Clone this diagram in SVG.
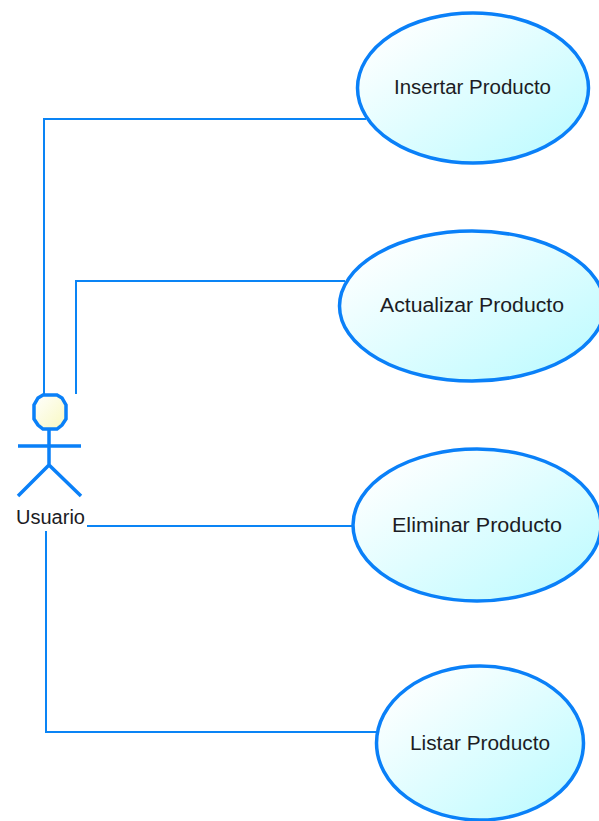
<svg xmlns="http://www.w3.org/2000/svg" width="599" height="821" viewBox="0 0 599 821">
<defs>
<linearGradient id="uc" x1="0.1" y1="0.1" x2="0.9" y2="0.9"><stop offset="0" stop-color="#ffffff"/><stop offset="1" stop-color="#c0fbff"/></linearGradient>
<linearGradient id="hd" x1="0" y1="0" x2="1" y2="1"><stop offset="0" stop-color="#ffffff"/><stop offset="1" stop-color="#f8f8c0"/></linearGradient>
</defs>
<style>
.c{fill:none;stroke:#0a84f5;stroke-width:2}
.u{fill:url(#uc);stroke:#0a80f8;stroke-width:3.5}
.a{fill:none;stroke:#0a80f8;stroke-width:3.5}
text{font-family:"Liberation Sans",Arial,sans-serif;font-size:19.5px;fill:#1c1c24;text-anchor:middle}
</style>
<rect width="599" height="821" fill="#ffffff"/>
<g id="connectors">
<path class="c" d="M44 395V119H366"/>
<path class="c" d="M76 394V281H345"/>
<path class="c" d="M87 526H354"/>
<path class="c" d="M46 531V732H379"/>
</g>
<g id="actor">
<polygon points="43,395 57,395 62,398 66,405 66,419 62,425 57,429 43,429 38,425 34,419 34,405 38,398" fill="url(#hd)" stroke="#0a80f8" stroke-width="3.5"/>
<path class="a" d="M49 429V465M18 446H81M18 496L49 465L81 496"/>
<text x="50.500" y="524" textLength="69" lengthAdjust="spacingAndGlyphs">Usuario</text>
</g>
<g id="uc1"><ellipse class="u" cx="473" cy="88" rx="115.500" ry="75"/><text x="472.500" y="94" textLength="157" lengthAdjust="spacingAndGlyphs">Insertar Producto</text></g>
<g id="uc2"><ellipse class="u" cx="472" cy="306" rx="132.500" ry="75"/><text x="472" y="312" textLength="184" lengthAdjust="spacingAndGlyphs">Actualizar Producto</text></g>
<g id="uc3"><ellipse class="u" cx="477" cy="525" rx="124" ry="76"/><text x="477" y="532" textLength="170" lengthAdjust="spacingAndGlyphs">Eliminar Producto</text></g>
<g id="uc4"><ellipse class="u" cx="480" cy="743" rx="103.500" ry="77"/><text x="480" y="750" textLength="140" lengthAdjust="spacingAndGlyphs">Listar Producto</text></g>
</svg>
